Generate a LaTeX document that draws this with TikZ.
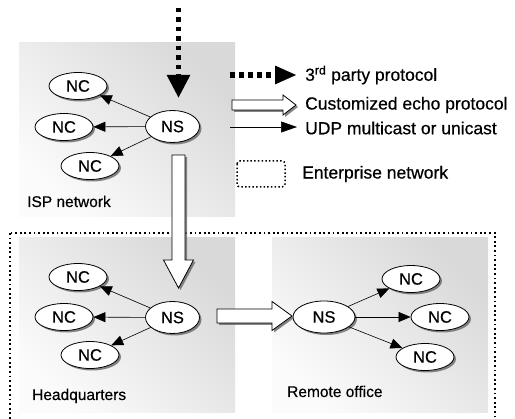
\documentclass[tikz,border=0pt]{standalone}
\usepackage{fontspec}
\setmainfont{Liberation Sans}
\newfontfamily\heavyfont[FakeBold=0.5]{Liberation Sans}
\usetikzlibrary{arrows.meta,shadows,shapes.geometric,calc}
\begin{document}
\begin{tikzpicture}[x=1pt,y=-1pt,
  every node/.style={inner sep=0pt},
  netbox/.style={left color=gray!30, right color=gray!3, shading angle=-45},
  shad/.style={drop shadow={shadow xshift=2pt, shadow yshift=-2pt, fill=black!60, opacity=0.8}},
  ell/.style={ellipse, draw=black, line width=0.8pt, fill=white, shad, font=\heavyfont\fontsize{16.5}{18}\selectfont},
  nc/.style={ell, minimum width=58pt, minimum height=27pt},
  ns/.style={ell, minimum width=54pt, minimum height=32pt},
  udp/.style={line width=0.6pt, -{Triangle[length=12pt,width=10pt]}},
  echo/.style={draw=black, line width=0.8pt, fill=white, line join=miter, shad},
  dotarrow/.style={line width=5.5pt, dash pattern=on 4.5pt off 5pt, -{Triangle[length=23pt,width=22pt]}},
  entdot/.style={line width=1.8pt, dash pattern=on 1.8pt off 2.8pt},
  lbl/.style={anchor=base west, font=\heavyfont\fontsize{15.5}{17}\selectfont},
  leg/.style={anchor=west, font=\heavyfont\fontsize{17.5}{20}\selectfont}]
\useasboundingbox (0,0) rectangle (515,419);

% network boxes
\shade[netbox] (19,43) rectangle (235,217);
\shade[netbox] (19,238) rectangle (235,413);
\shade[netbox] (272,238) rectangle (488,413);

% enterprise network
\draw[entdot] (10,233) rectangle (495,430);

% ISP network
\node[ns] (ispNS) at (172.5,126.5) {NS};
\node[nc] (ispC1) at (78,86) {NC};
\node[nc] (ispC2) at (64,127) {NC};
\node[nc] (ispC3) at (90,166) {NC};
\draw[udp] (ispNS) -- (ispC1);
\draw[udp] (ispNS) -- (ispC2);
\draw[udp] (ispNS) -- (ispC3);
\node[lbl] (ispL) at (27,207) {ISP network};

% Headquarters
\node[ns] (hqNS) at (172.5,317.5) {NS};
\node[nc] (hqC1) at (78,277) {NC};
\node[nc] (hqC2) at (64,317) {NC};
\node[nc] (hqC3) at (90,355) {NC};
\draw[udp] (hqNS) -- (hqC1);
\draw[udp] (hqNS) -- (hqC2);
\draw[udp] (hqNS) -- (hqC3);
\node[lbl] (hqL) at (32,400) {Headquarters};

% Remote office
\node[ns, minimum width=62pt] (roNS) at (324,317) {NS};
\node[nc] (roC1) at (411,279) {NC};
\node[nc] (roC2) at (440,317) {NC};
\node[nc] (roC3) at (425,357) {NC};
\draw[udp] (roNS) -- (roC1);
\draw[udp] (roNS) -- (roC2);
\draw[udp] (roNS) -- (roC3);
\node[lbl] (roL) at (287,397) {Remote office};

% 3rd party protocol arrow into ISP NS
\coordinate (dtop) at (178.5,8);
\coordinate (dtip) at (178.5,98);
\draw[dotarrow] (dtop) -- (dtip);

% customized echo protocol arrows
\coordinate (v0) at (178.5,155);
\draw[echo] ($(v0)+(-6.5,0)$) -- ($(v0)+(6.5,0)$) -- ($(v0)+(6.5,105)$) -- ($(v0)+(15,105)$)
  -- ($(v0)+(0,133)$) -- ($(v0)+(-15,105)$) -- ($(v0)+(-6.5,105)$) -- cycle;
\coordinate (h0) at (217,316);
\draw[echo] ($(h0)+(0,-7)$) -- ($(h0)+(55,-7)$) -- ($(h0)+(55,-14.5)$) -- ($(h0)+(75,0)$)
  -- ($(h0)+(55,14.5)$) -- ($(h0)+(55,7)$) -- ($(h0)+(0,7)$) -- cycle;

% legend
\coordinate (l1a) at (230,75);
\coordinate (l1b) at (297,75);
\draw[line width=5.5pt, dash pattern=on 4.5pt off 4.5pt, -{Triangle[length=22pt,width=17pt]}] (l1a) -- (l1b);
\node[leg] (t1) at (305,75) {3\textsuperscript{rd} party protocol};

\coordinate (l2) at (232,105);
\draw[echo] ($(l2)+(0,-5)$) -- ($(l2)+(51,-5)$) -- ($(l2)+(51,-10)$) -- ($(l2)+(64,0)$)
  -- ($(l2)+(51,10)$) -- ($(l2)+(51,5)$) -- ($(l2)+(0,5)$) -- cycle;
\node[leg] (t2) at (305,105) {Customized echo protocol};

\coordinate (l3a) at (230,127);
\coordinate (l3b) at (297,127);
\draw[line width=0.6pt, -{Triangle[length=16pt,width=11pt]}] (l3a) -- (l3b);
\node[leg] (t3) at (305,128) {UDP multicast or unicast};

\draw[line width=1.5pt, dash pattern=on 1.5pt off 2.2pt, rounded corners=3pt] (237,161) rectangle (285,187);
\node[leg] (t4) at (302,174) {Enterprise network};
\end{tikzpicture}
\end{document}
